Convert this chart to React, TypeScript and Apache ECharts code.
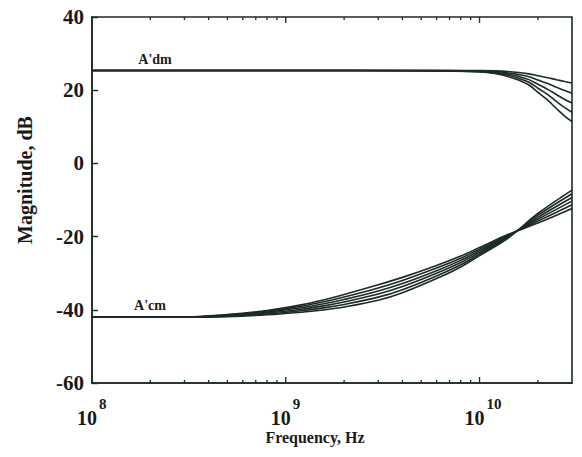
import React, { useEffect, useRef } from "react";
import * as echarts from "echarts";

// ---- data ----
const dmFreq = [1e8, 1e9, 5e9, 1e10, 1.2e10, 1.4e10, 1.6e10, 1.8e10, 2e10, 2.25e10, 2.5e10, 2.75e10, 3e10];
const dm1 = [25.4, 25.4, 25.4, 25.35, 25.28, 25.12, 24.82, 24.46, 23.96, 23.42, 22.86, 22.38, 21.98];
const dm2 = [25.4, 25.4, 25.37, 25.26, 25.09, 24.76, 24.26, 23.66, 22.76, 21.8, 20.77, 19.89, 19.18];
const dm3 = [25.4, 25.4, 25.35, 25.17, 24.9, 24.42, 23.72, 22.89, 21.61, 20.23, 18.74, 17.48, 16.48];
const dm4 = [25.4, 25.4, 25.32, 25.09, 24.73, 24.1, 23.21, 22.17, 20.54, 18.78, 16.87, 15.25, 13.99];
const dm5 = [25.4, 25.4, 25.3, 25.0, 24.55, 23.77, 22.69, 21.43, 19.43, 17.27, 14.93, 12.93, 11.39];

const cmFreq = [1e8, 3e8, 5e8, 8e8, 1.2e9, 1.6e9, 2e9, 3e9, 4e9, 6e9, 8e9, 1e10, 1.4e10, 2e10, 3e10];
const cm1 = [-42.0, -41.95, -41.27, -40.17, -38.65, -37.17, -35.83, -33.18, -31.14, -27.87, -25.29, -22.99, -19.45, -16.29, -12.3];
const cm2 = [-42.0, -41.97, -41.39, -40.41, -39.05, -37.73, -36.51, -34.02, -31.98, -28.59, -25.89, -23.43, -19.65, -15.77, -11.3];
const cm3 = [-42.0, -41.99, -41.51, -40.65, -39.45, -38.29, -37.19, -34.86, -32.82, -29.31, -26.49, -23.87, -19.85, -15.25, -10.3];
const cm4 = [-42.0, -42.01, -41.63, -40.89, -39.85, -38.85, -37.87, -35.7, -33.66, -30.03, -27.09, -24.31, -20.05, -14.73, -9.3];
const cm5 = [-42.0, -42.03, -41.75, -41.13, -40.25, -39.41, -38.55, -36.54, -34.5, -30.75, -27.69, -24.75, -20.25, -14.21, -8.3];
const cm6 = [-42.0, -42.05, -41.87, -41.37, -40.65, -39.97, -39.23, -37.38, -35.34, -31.47, -28.29, -25.19, -20.45, -13.69, -7.3];

const minorTickFreq = [2e8, 3e8, 4e8, 5e8, 6e8, 7e8, 8e8, 9e8, 2e9, 3e9, 4e9, 5e9, 6e9, 7e9, 8e9, 9e9, 2e10];
const majorTickFreq = [1e9, 1e10];
const labelFreq = [1e8, 1e9, 1e10];
const labelExp = ["8", "9", "10"];

const X_MIN = 1e8;
const X_MAX = 3e10;
const Y_MIN = -60;
const Y_MAX = 40;
const Y_STEP = 20;

const INK = "#1d2a26";
const TEXT = "#1a1a1a";
const FONT = '"Liberation Serif", "Times New Roman", serif';

function lineSeries(name: string, xs: number[], ys: number[]) {
  return {
    name,
    type: "line",
    data: xs.map((x, i) => [x, ys[i]]),
    showSymbol: false,
    smooth: 0.35,
    lineStyle: { color: INK, width: 1.6 },
    itemStyle: { color: INK },
    z: 3,
  };
}

export default function App() {
  const ref = useRef<HTMLDivElement>(null);

  useEffect(() => {
    if (!ref.current) return;
    const chart = echarts.init(ref.current, undefined, { renderer: "svg" });

    const tickData = [
      ...minorTickFreq.map((f) => [f, 0]),
      ...majorTickFreq.map((f) => [f, 1]),
    ];
    const labelData = labelFreq.map((f, i) => [f, i]);

    chart.setOption({
      animation: false,
      backgroundColor: "#ffffff",
      grid: {
        left: 92,
        right: 10,
        top: 17,
        bottom: 74,
        show: true,
        borderColor: INK,
        borderWidth: 1.6,
        outerBoundsMode: "none",
      },
      xAxis: {
        type: "log",
        logBase: 10,
        min: X_MIN,
        max: X_MAX,
        axisLine: { show: true, onZero: false, lineStyle: { color: INK, width: 1.6 } },
        axisTick: { show: false },
        axisLabel: { show: false },
        splitLine: { show: false },
        minorTick: { show: false },
      },
      yAxis: {
        type: "value",
        min: Y_MIN,
        max: Y_MAX,
        interval: Y_STEP,
        axisLine: { show: true, onZero: false, lineStyle: { color: INK, width: 1.6 } },
        axisTick: { show: true, inside: true, length: 6, lineStyle: { color: INK, width: 1.4 } },
        axisLabel: {
          show: true,
          margin: 8,
          color: TEXT,
          fontFamily: FONT,
          fontWeight: "bold",
          fontSize: 21,
        },
        splitLine: { show: false },
      },
      graphic: [
        {
          type: "text",
          x: 25,
          y: 180,
          rotation: Math.PI / 2,
          style: {
            text: "Magnitude, dB",
            fill: TEXT,
            font: `bold 20px ${FONT}`,
            align: "center",
            verticalAlign: "middle",
          },
          z: 10,
        },
        {
          type: "text",
          x: 315,
          y: 437,
          style: {
            text: "Frequency, Hz",
            fill: TEXT,
            font: `bold 16px ${FONT}`,
            align: "center",
            verticalAlign: "middle",
          },
          z: 10,
        },
        {
          type: "text",
          x: 155,
          y: 59,
          style: {
            text: "A'dm",
            fill: TEXT,
            font: `bold 14px ${FONT}`,
            align: "center",
            verticalAlign: "middle",
          },
          z: 10,
        },
        {
          type: "text",
          x: 150,
          y: 305,
          style: {
            text: "A'cm",
            fill: TEXT,
            font: `bold 14px ${FONT}`,
            align: "center",
            verticalAlign: "middle",
          },
          z: 10,
        },
      ],
      series: [
        lineSeries("dm1", dmFreq, dm1),
        lineSeries("dm2", dmFreq, dm2),
        lineSeries("dm3", dmFreq, dm3),
        lineSeries("dm4", dmFreq, dm4),
        lineSeries("dm5", dmFreq, dm5),
        lineSeries("cm1", cmFreq, cm1),
        lineSeries("cm2", cmFreq, cm2),
        lineSeries("cm3", cmFreq, cm3),
        lineSeries("cm4", cmFreq, cm4),
        lineSeries("cm5", cmFreq, cm5),
        lineSeries("cm6", cmFreq, cm6),
        {
          name: "ticks",
          type: "custom",
          clip: false,
          silent: true,
          data: tickData,
          renderItem: (params: any, api: any) => {
            const f = api.value(0);
            const major = api.value(1) === 1;
            const b = api.coord([f, Y_MIN]);
            const t = api.coord([f, Y_MAX]);
            const len = major ? 6 : 3;
            return {
              type: "group",
              children: [
                {
                  type: "line",
                  shape: { x1: b[0], y1: b[1], x2: b[0], y2: b[1] - len },
                  style: { stroke: INK, lineWidth: 1.3 },
                },
                {
                  type: "line",
                  shape: { x1: t[0], y1: t[1], x2: t[0], y2: t[1] + len },
                  style: { stroke: INK, lineWidth: 1.3 },
                },
              ],
            };
          },
          z: 4,
        },
        {
          name: "decadeLabels",
          type: "custom",
          clip: false,
          silent: true,
          data: labelData,
          renderItem: (params: any, api: any) => {
            const f = api.value(0);
            const idx = api.value(1);
            const b = api.coord([f, Y_MIN]);
            return {
              type: "group",
              children: [
                {
                  type: "text",
                  x: b[0] - 5,
                  y: b[1] + 35,
                  style: {
                    text: "10",
                    fill: TEXT,
                    font: `bold 20px ${FONT}`,
                    align: "center",
                    verticalAlign: "middle",
                  },
                },
                {
                  type: "text",
                  x: b[0] + 7,
                  y: b[1] + 21,
                  style: {
                    text: labelExp[idx],
                    fill: TEXT,
                    font: `bold 15px ${FONT}`,
                    align: "left",
                    verticalAlign: "middle",
                  },
                },
              ],
            };
          },
          z: 4,
        },
      ],
    });

    return () => {
      chart.dispose();
    };
  }, []);

  return (
    <div
      ref={ref}
      style={{ position: "fixed", left: 0, top: 0, width: 582, height: 457, background: "#fff" }}
    />
  );
}
